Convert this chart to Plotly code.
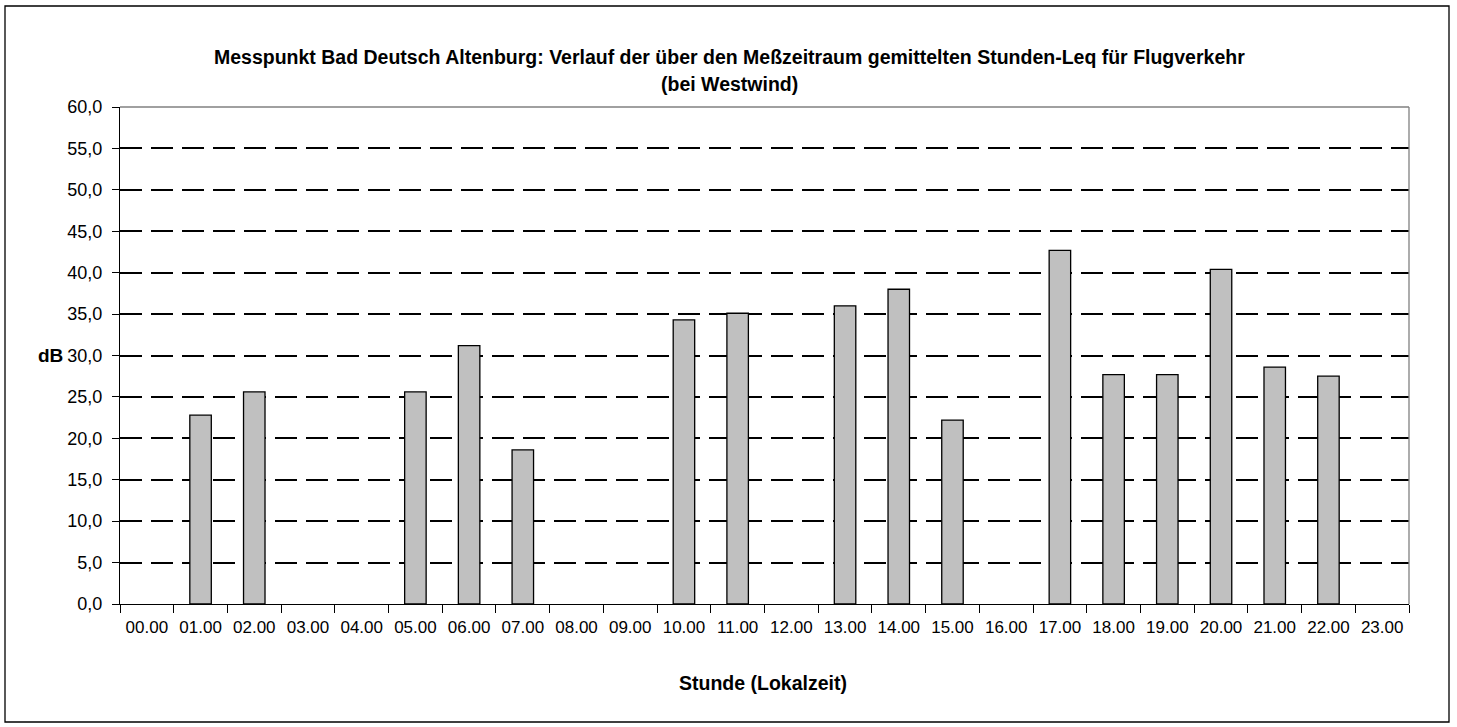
import plotly.graph_objects as go

hours = ["00.00", "01.00", "02.00", "03.00", "04.00", "05.00", "06.00", "07.00",
         "08.00", "09.00", "10.00", "11.00", "12.00", "13.00", "14.00", "15.00",
         "16.00", "17.00", "18.00", "19.00", "20.00", "21.00", "22.00", "23.00"]
leq_db = [None, 22.8, 25.6, None, None, 25.6, 31.2, 18.6,
          None, None, 34.3, 35.1, None, 36.0, 38.0, 22.2,
          None, 42.7, 27.7, 27.7, 40.4, 28.6, 27.5, None]
y_ticks = [0, 5, 10, 15, 20, 25, 30, 35, 40, 45, 50, 55, 60]

title_line1 = "Messpunkt Bad Deutsch Altenburg: Verlauf der über den Meßzeitraum gemittelten Stunden-Leq für Flugverkehr"
title_line2 = "(bei Westwind)"

FONT = "Liberation Sans Narrow, Arial Narrow, Liberation Sans, Arial, sans-serif"

L, R, T, B = 120, 1409, 107, 604
PW, PH = R - L, B - T

fig = go.Figure()
fig.add_trace(go.Bar(
    x=hours, y=leq_db, width=0.4,
    marker=dict(color="#C0C0C0", line=dict(color="#000000", width=1.3)),
    hoverinfo="x+y",
))

fig.update_layout(
    width=1457, height=727,
    margin=dict(l=L, r=1457 - R, t=T, b=727 - B, autoexpand=False),
    paper_bgcolor="white", plot_bgcolor="white",
    separators=",.",
    showlegend=False,
    font=dict(family=FONT, size=18, color="#000000"),
)

fig.update_xaxes(
    type="category", categoryorder="array", categoryarray=hours,
    tickson="boundaries", ticks="outside", ticklen=8, tickwidth=1.3, tickcolor="#000",
    tickangle=0, automargin=False, ticklabelstandoff=7,
    showline=True, linecolor="#000", linewidth=1.3,
    showgrid=False, zeroline=False,
    tickfont=dict(family=FONT, size=17, color="#000"),
    range=[-0.5, 23.5],
)
fig.update_yaxes(
    range=[0, 60], tickmode="array", tickvals=y_ticks, tickformat=".1f",
    ticks="outside", ticklen=7, tickwidth=1.3, tickcolor="#000", automargin=False,
    ticklabelstandoff=6,
    showline=True, linecolor="#000", linewidth=1.3,
    showgrid=True, gridcolor="#000", gridwidth=1.5, griddash="22px,9px",
    zeroline=False,
    tickfont=dict(family=FONT, size=18, color="#000"),
)

# top and right plot border (gray)
fig.add_shape(type="line", xref="paper", yref="paper", x0=0, x1=1, y0=1, y1=1,
              line=dict(color="#808080", width=1.3))
fig.add_shape(type="line", xref="paper", yref="paper", x0=1, x1=1, y0=0, y1=1,
              line=dict(color="#808080", width=1.3))
# outer chart border
fig.add_shape(type="rect", xref="paper", yref="paper",
              x0=(5 - L) / PW, x1=(1449 - L) / PW, y0=-(722 - B) / PH, y1=1 + (T - 6) / PH,
              line=dict(color="#000", width=1.3), fillcolor="rgba(0,0,0,0)", layer="below")

def px_x(x):
    return (x - L) / PW

def px_y(y):
    return (B - y) / PH

fig.add_annotation(text="<b>" + title_line1 + "</b>", xref="paper", yref="paper",
                   x=px_x(729), y=px_y(57), showarrow=False,
                   xanchor="center", yanchor="middle",
                   font=dict(family=FONT, size=19.5, color="#000"))
fig.add_annotation(text="<b>" + title_line2 + "</b>", xref="paper", yref="paper",
                   x=px_x(729), y=px_y(84), showarrow=False,
                   xanchor="center", yanchor="middle",
                   font=dict(family=FONT, size=19.5, color="#000"))
fig.add_annotation(text="<b>dB</b>", xref="paper", yref="paper",
                   x=px_x(50), y=px_y(355), showarrow=False,
                   xanchor="center", yanchor="middle",
                   font=dict(family=FONT, size=19, color="#000"))
fig.add_annotation(text="<b>Stunde (Lokalzeit)</b>", xref="paper", yref="paper",
                   x=px_x(763), y=px_y(683), showarrow=False,
                   xanchor="center", yanchor="middle",
                   font=dict(family=FONT, size=19.5, color="#000"))

fig.write_html("out.html", config={"displayModeBar": False},
               post_script="document.body.style.margin='0';")
